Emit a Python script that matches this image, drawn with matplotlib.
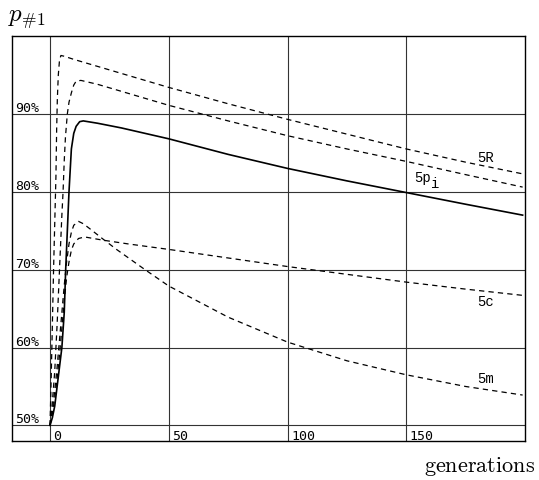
import numpy as np
import matplotlib
matplotlib.use("Agg")
import matplotlib.pyplot as plt

plt.rcParams['mathtext.fontset'] = 'cm'
plt.rcParams['lines.scale_dashes'] = False

# values (generation, % of population)
gen_R = [0, 0.5, 1, 1.5, 2, 2.5, 2.8, 3.1, 3.5, 4, 4.6, 6, 10, 20, 30, 40, 50, 75, 100, 125, 150, 175, 199]
val_R = [50, 56, 63, 70, 76, 82, 88, 92, 95, 96.9, 97.5, 97.4, 97.0, 96.1, 95.2, 94.3, 93.4, 91.3, 89.3, 87.4, 85.5, 83.8, 82.3]

gen_P = [0, 1, 2, 3, 4, 5, 5.5, 6, 6.5, 7.3, 8, 9, 10, 11, 13, 20, 30, 50, 75, 100, 125, 150, 175, 199]
val_P = [50, 53, 57, 63, 70, 77, 80, 84, 87, 90, 91.5, 92.7, 93.7, 94.2, 94.3, 93.8, 92.9, 91.1, 89.1, 87.2, 85.5, 83.9, 82.2, 80.6]

gen_S = [0, 1, 2, 3, 4, 5, 6, 6.6, 7.3, 8, 9, 10, 11, 12.5, 14, 20, 30, 50, 75, 100, 125, 150, 175, 199]
val_S = [50, 51, 52.5, 55, 57.5, 60, 64.5, 70, 75, 80, 85.5, 87.5, 88.4, 89.0, 89.1, 88.8, 88.2, 86.8, 84.8, 83.0, 81.4, 79.9, 78.4, 77.0]

gen_C = [0, 1, 2, 3, 4, 5, 6, 7, 8, 9, 10, 12, 14.6, 22, 33, 50, 75, 100, 125, 150, 175, 199]
val_C = [50, 51.5, 53.5, 56, 59, 62.5, 66, 69, 71, 72.5, 73.3, 74.0, 74.2, 73.8, 73.3, 72.6, 71.5, 70.4, 69.4, 68.4, 67.5, 66.7]

gen_M = [0, 1, 2, 3, 4, 5, 6, 7, 8, 9, 10, 12, 14, 17, 22, 28, 40, 50, 75, 100, 125, 150, 175, 199]
val_M = [50, 52, 54.5, 57.5, 61, 64.5, 68, 71, 73.3, 74.8, 75.7, 76.2, 75.9, 75.2, 74.0, 72.6, 70.0, 67.9, 63.9, 60.7, 58.3, 56.5, 55.0, 53.9]

x_ticks = [0, 50, 100, 150]
y_ticks = [50, 60, 70, 80, 90]
y_labels = ['50%', '60%', '70%', '80%', '90%']

fig = plt.figure(figsize=(5.39, 4.81), dpi=100)
ax = fig.add_axes([12 / 539, 39 / 481, 513 / 539, 405 / 481])
ax.set_xlim(-16, 200)
ax.set_ylim(48, 100)

for x in x_ticks:
    ax.axvline(x, color='#333333', lw=0.8, zorder=1)
for y in y_ticks:
    ax.axhline(y, color='#333333', lw=0.8, zorder=1)

dash = (0, (3.8, 3.0))
ax.plot(gen_R, val_R, color='black', lw=0.9, linestyle=dash, zorder=3)
ax.plot(gen_P, val_P, color='black', lw=0.9, linestyle=dash, zorder=3)
ax.plot(gen_C, val_C, color='black', lw=0.9, linestyle=dash, zorder=3)
ax.plot(gen_M, val_M, color='black', lw=0.9, linestyle=dash, zorder=3)
ax.plot(gen_S, val_S, color='black', lw=1.2, zorder=4)

mono = 'DejaVu Sans Mono'
for y, lab in zip(y_ticks, y_labels):
    ax.text(-14.8, y + 0.38, lab, family=mono, fontsize=9.5, va='baseline', ha='left')
for x in x_ticks:
    ax.text(x + 1.5, 48.2, str(x), family=mono, fontsize=9.5, va='baseline', ha='left')

lab_font = 'Liberation Mono'
ax.text(180, 84.5, '5R', family=lab_font, fontsize=10, va='center', ha='left')
ax.text(153.5, 81.9, '5p', family=lab_font, fontsize=10, va='center', ha='left')
ax.annotate('i', xy=(153.5, 81.9), xytext=(12, -4), textcoords='offset points',
            family=lab_font, fontsize=10, va='center', ha='left')
ax.text(180, 66.0, '5c', family=lab_font, fontsize=10, va='center', ha='left')
ax.text(180, 56.1, '5m', family=lab_font, fontsize=10, va='center', ha='left')

ax.set_xticks([])
ax.set_yticks([])
for s in ax.spines.values():
    s.set_linewidth(1.0)
    s.set_color('black')

fig.text(8 / 539, 1 - 21 / 481, r'$p_{\#1}$', fontsize=18, ha='left', va='baseline')
fig.text(535 / 539, 1 - 472 / 481, r'$\mathrm{generations}$', fontsize=16, ha='right', va='baseline')

fig.savefig('out.png', dpi=100)
